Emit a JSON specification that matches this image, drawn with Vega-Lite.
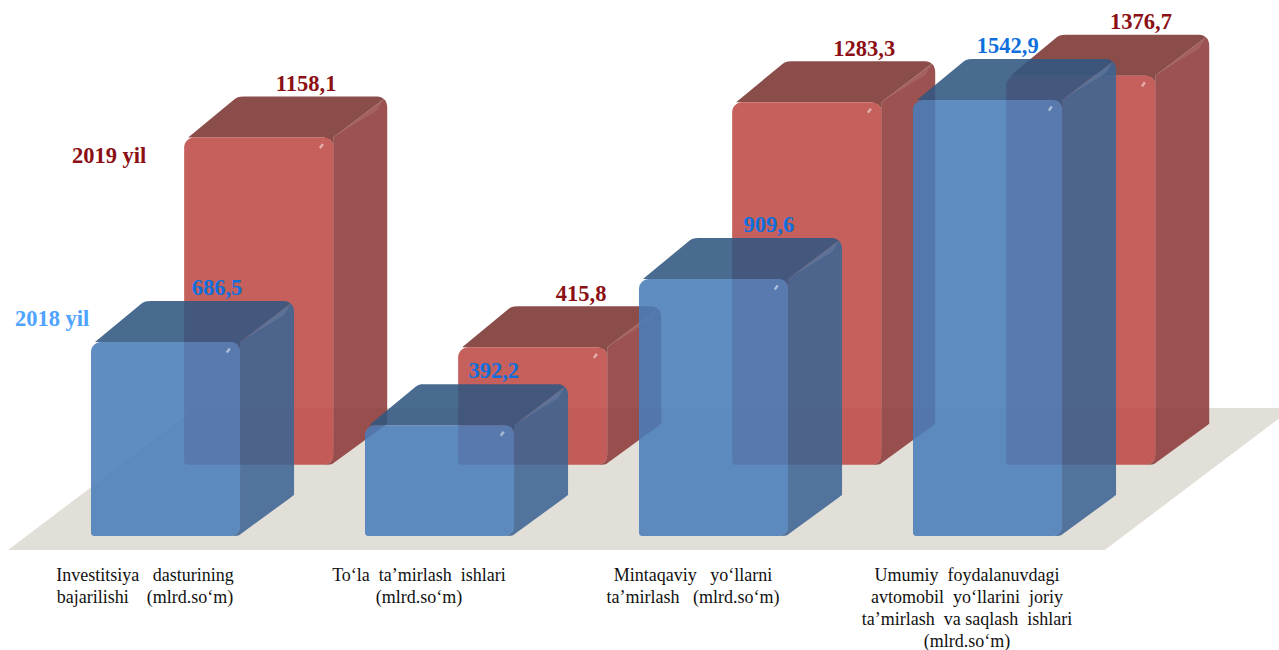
{"$schema":"https://vega.github.io/schema/vega-lite/v6.json","width":1279,"height":650,"autosize":{"type":"none"},"padding":0,"background":"white","view":{"stroke":null},"layer":[
{"data":{"values":[{"edge":"near"},{"edge":"far"}]},"transform":[{"calculate":"datum.edge=='near'?-49.6:453","as":"fy"},{"calculate":"datum.edge=='near'?-0.303:0.383","as":"fl"},{"calculate":"datum.edge=='near'?3.70:4.387","as":"fr"}],"mark":{"type":"area","orient":"horizontal","fill":"#e2dfd8","clip":true},"encoding":{"y":{"field":"fy","type":"quantitative","scale":{"domain":[-403.5,1897],"nice":false,"zero":false},"axis":null},"x":{"field":"fl","type":"quantitative","scale":{"domain":[-0.3321,4.3358],"nice":false,"zero":false},"axis":null},"x2":{"field":"fr"}}},
{"data":{"values":[
{"measure":"Investitsiya\u00a0\u00a0\u00a0dasturining\nbajarilishi\u00a0\u00a0\u00a0\u00a0(mlrd.so‘m)","order":0,"year":2018,"value":686.5,"label":"686,5"},
{"measure":"Investitsiya\u00a0\u00a0\u00a0dasturining\nbajarilishi\u00a0\u00a0\u00a0\u00a0(mlrd.so‘m)","order":0,"year":2019,"value":1158.1,"label":"1158,1"},
{"measure":"To‘la\u00a0\u00a0ta’mirlash\u00a0\u00a0ishlari\n(mlrd.so‘m)","order":1,"year":2018,"value":392.2,"label":"392,2"},
{"measure":"To‘la\u00a0\u00a0ta’mirlash\u00a0\u00a0ishlari\n(mlrd.so‘m)","order":1,"year":2019,"value":415.8,"label":"415,8"},
{"measure":"Mintaqaviy\u00a0\u00a0\u00a0yo‘llarni\nta’mirlash\u00a0\u00a0\u00a0(mlrd.so‘m)","order":2,"year":2018,"value":909.6,"label":"909,6"},
{"measure":"Mintaqaviy\u00a0\u00a0\u00a0yo‘llarni\nta’mirlash\u00a0\u00a0\u00a0(mlrd.so‘m)","order":2,"year":2019,"value":1283.3,"label":"1283,3"},
{"measure":"Umumiy\u00a0\u00a0foydalanuvdagi\navtomobil\u00a0\u00a0yo‘llarini\u00a0\u00a0joriy\nta’mirlash\u00a0\u00a0va saqlash\u00a0\u00a0ishlari\n(mlrd.so‘m)","order":3,"year":2018,"value":1542.9,"label":"1542,9"},
{"measure":"Umumiy\u00a0\u00a0foydalanuvdagi\navtomobil\u00a0\u00a0yo‘llarini\u00a0\u00a0joriy\nta’mirlash\u00a0\u00a0va saqlash\u00a0\u00a0ishlari\n(mlrd.so‘m)","order":3,"year":2019,"value":1376.7,"label":"1376,7"}
]},
"transform":[{"calculate":"datum.order+(datum.year==2019?0.34:0)","as":"x0"},{"calculate":"datum.x0+0.544","as":"x1"},{"calculate":"datum.year==2019?252:0","as":"base"},{"calculate":"datum.base+datum.value","as":"top"},
{"calculate":"[{d:-10,u:0,b:1,l:0},{d:-6,u:0.8,b:1,l:0},{d:-3,u:2.9,b:1,l:0.2},{d:-1,u:5.6,b:1,l:0.8},{d:-0.01,u:10,b:1,l:1.5},{d:0,u:0,b:0,l:1.5},{d:50.7,u:38.5,b:0,l:38.5},{d:52.5,u:36.5,b:0,l:39.9},{d:53.6,u:33.5,b:0,l:40.7},{d:54,u:31,b:0,l:41}]","as":"sideV"},
{"calculate":"[{y:-9,l:0,a:1,r:0},{y:-5,l:-0.94,a:1,r:0},{y:-2,l:-3.34,a:1,r:0},{y:-0.01,l:-9,a:1,r:0},{y:0,l:4,a:0,r:0},{y:38,l:50,a:0,r:50},{y:38.5,l:50.6,a:0,r:50.6},{y:40,l:53,a:0,r:48.4},{y:40.8,l:56,a:0,r:46},{y:41,l:60,a:0,r:44}]","as":"topV"},
{"calculate":"[{d:2,u:1.5,l:1.5},{d:44,u:33.4,l:27},{d:50.7,u:38.5,l:38.5}]","as":"bevV"}],
"layer":[
{"transform":[{"filter":"datum.year==2019"},{"flatten":["sideV"],"as":["v"]},{"calculate":"datum.x1+datum.v.d/274","as":"sx"},{"calculate":"(datum.v.b==1?datum.base:datum.top)+datum.v.u*3.54","as":"sy"},{"calculate":"datum.base+datum.v.l*3.54","as":"sy2"}],"mark":{"type":"area","orient":"vertical","fill":"#8d3a38","opacity":0.88},"encoding":{"x":{"field":"sx","type":"quantitative","scale":{"domain":[-0.3321,4.3358],"nice":false,"zero":false},"axis":null},"y":{"field":"sy","type":"quantitative","scale":{"domain":[-403.5,1897],"nice":false,"zero":false},"axis":null},"y2":{"field":"sy2"},"detail":{"field":"order","type":"nominal"}}},
{"transform":[{"filter":"datum.year==2019"},{"flatten":["topV"],"as":["v"]},{"calculate":"datum.top+datum.v.y*3.54","as":"ty"},{"calculate":"(datum.v.a==1?datum.x1:datum.x0)+datum.v.l/274","as":"tl"},{"calculate":"datum.x1+datum.v.r/274","as":"tr"}],"mark":{"type":"area","orient":"horizontal","fill":"#7b3431","opacity":0.88},"encoding":{"y":{"field":"ty","type":"quantitative","scale":{"domain":[-403.5,1897],"nice":false,"zero":false},"axis":null},"x":{"field":"tl","type":"quantitative","scale":{"domain":[-0.3321,4.3358],"nice":false,"zero":false},"axis":null},"x2":{"field":"tr"},"detail":{"field":"order","type":"nominal"}}},
{"transform":[{"filter":"datum.year==2019"},{"flatten":["bevV"],"as":["v"]},{"calculate":"datum.x1+datum.v.d/274","as":"bx"},{"calculate":"datum.top+datum.v.u*3.54","as":"by"},{"calculate":"datum.top+datum.v.l*3.54","as":"by2"}],"mark":{"type":"area","orient":"vertical","fill":"white","opacity":0.09},"encoding":{"x":{"field":"bx","type":"quantitative","scale":{"domain":[-0.3321,4.3358],"nice":false,"zero":false},"axis":null},"y":{"field":"by","type":"quantitative","scale":{"domain":[-403.5,1897],"nice":false,"zero":false},"axis":null},"y2":{"field":"by2"},"detail":{"field":"order","type":"nominal"}}},
{"transform":[{"filter":"datum.year==2019"}],"mark":{"type":"rect","fill":"#be4a46","opacity":0.88,"cornerRadiusTopLeft":10,"cornerRadiusTopRight":9,"cornerRadiusBottomLeft":3,"cornerRadiusBottomRight":10},"encoding":{"x":{"field":"x0","type":"quantitative","scale":{"domain":[-0.3321,4.3358],"nice":false,"zero":false},"axis":null},"x2":{"field":"x1"},"y":{"field":"top","type":"quantitative","scale":{"domain":[-403.5,1897],"nice":false,"zero":false},"axis":null},"y2":{"field":"base"}}},
{"transform":[{"filter":"datum.year==2019"},{"calculate":"datum.x1-0.043","as":"px"},{"calculate":"datum.top-30","as":"py"}],"mark":{"type":"point","filled":true,"fill":"white","opacity":0.5,"size":30,"shape":"M-0.2,1L-0.9,0.5L0.2,-1L0.9,-0.5Z"},"encoding":{"x":{"field":"px","type":"quantitative","scale":{"domain":[-0.3321,4.3358],"nice":false,"zero":false},"axis":null},"y":{"field":"py","type":"quantitative","scale":{"domain":[-403.5,1897],"nice":false,"zero":false},"axis":null}}},
{"transform":[{"filter":"datum.year==2018"},{"flatten":["sideV"],"as":["v"]},{"calculate":"datum.x1+datum.v.d/274","as":"sx"},{"calculate":"(datum.v.b==1?datum.base:datum.top)+datum.v.u*3.54","as":"sy"},{"calculate":"datum.base+datum.v.l*3.54","as":"sy2"}],"mark":{"type":"area","orient":"vertical","fill":"#3c6493","opacity":0.88},"encoding":{"x":{"field":"sx","type":"quantitative","scale":{"domain":[-0.3321,4.3358],"nice":false,"zero":false},"axis":null},"y":{"field":"sy","type":"quantitative","scale":{"domain":[-403.5,1897],"nice":false,"zero":false},"axis":null},"y2":{"field":"sy2"},"detail":{"field":"order","type":"nominal"}}},
{"transform":[{"filter":"datum.year==2018"},{"flatten":["topV"],"as":["v"]},{"calculate":"datum.top+datum.v.y*3.54","as":"ty"},{"calculate":"(datum.v.a==1?datum.x1:datum.x0)+datum.v.l/274","as":"tl"},{"calculate":"datum.x1+datum.v.r/274","as":"tr"}],"mark":{"type":"area","orient":"horizontal","fill":"#315681","opacity":0.88},"encoding":{"y":{"field":"ty","type":"quantitative","scale":{"domain":[-403.5,1897],"nice":false,"zero":false},"axis":null},"x":{"field":"tl","type":"quantitative","scale":{"domain":[-0.3321,4.3358],"nice":false,"zero":false},"axis":null},"x2":{"field":"tr"},"detail":{"field":"order","type":"nominal"}}},
{"transform":[{"filter":"datum.year==2018"},{"flatten":["bevV"],"as":["v"]},{"calculate":"datum.x1+datum.v.d/274","as":"bx"},{"calculate":"datum.top+datum.v.u*3.54","as":"by"},{"calculate":"datum.top+datum.v.l*3.54","as":"by2"}],"mark":{"type":"area","orient":"vertical","fill":"white","opacity":0.09},"encoding":{"x":{"field":"bx","type":"quantitative","scale":{"domain":[-0.3321,4.3358],"nice":false,"zero":false},"axis":null},"y":{"field":"by","type":"quantitative","scale":{"domain":[-403.5,1897],"nice":false,"zero":false},"axis":null},"y2":{"field":"by2"},"detail":{"field":"order","type":"nominal"}}},
{"transform":[{"filter":"datum.year==2018"}],"mark":{"type":"rect","fill":"#497dba","opacity":0.88,"cornerRadiusTopLeft":10,"cornerRadiusTopRight":9,"cornerRadiusBottomLeft":3,"cornerRadiusBottomRight":10},"encoding":{"x":{"field":"x0","type":"quantitative","scale":{"domain":[-0.3321,4.3358],"nice":false,"zero":false},"axis":null},"x2":{"field":"x1"},"y":{"field":"top","type":"quantitative","scale":{"domain":[-403.5,1897],"nice":false,"zero":false},"axis":null},"y2":{"field":"base"}}},
{"transform":[{"filter":"datum.year==2018"},{"calculate":"datum.x1-0.043","as":"px"},{"calculate":"datum.top-30","as":"py"}],"mark":{"type":"point","filled":true,"fill":"white","opacity":0.5,"size":30,"shape":"M-0.2,1L-0.9,0.5L0.2,-1L0.9,-0.5Z"},"encoding":{"x":{"field":"px","type":"quantitative","scale":{"domain":[-0.3321,4.3358],"nice":false,"zero":false},"axis":null},"y":{"field":"py","type":"quantitative","scale":{"domain":[-403.5,1897],"nice":false,"zero":false},"axis":null}}},
{"transform":[{"calculate":"datum.year==2018?datum.x0+0.467+(datum.order==3?-0.121:datum.order==0?-0.007:datum.order==2?0.007:0.003):datum.x0+0.467+(datum.order==0?-0.022:datum.order==1?-0.018:datum.order==2?0.015:0.025)","as":"lx"},{"calculate":"datum.top+190","as":"ly"},{"calculate":"datum.year==2019?'#8b0f14':'#0f6fdc'","as":"lc"}],"mark":{"type":"text","font":"Liberation Serif","fontWeight":"bold","fontSize":22.5,"baseline":"middle","align":"center"},"encoding":{"x":{"field":"lx","type":"quantitative","scale":{"domain":[-0.3321,4.3358],"nice":false,"zero":false},"axis":null},"y":{"field":"ly","type":"quantitative","scale":{"domain":[-403.5,1897],"nice":false,"zero":false},"axis":null},"text":{"field":"label","type":"nominal"},"color":{"field":"lc","type":"nominal","scale":null}}},
{"transform":[{"filter":"datum.order==0"},{"calculate":"datum.year+' yil'","as":"yl"},{"calculate":"datum.year==2019?datum.x0-0.274:datum.x0-0.142","as":"lx"},{"calculate":"datum.year==2019?datum.top-64:datum.top+81","as":"ly"},{"calculate":"datum.year==2019?'#8b0f14':'#4da3ff'","as":"lc"}],"mark":{"type":"text","font":"Liberation Serif","fontWeight":"bold","fontSize":22.5,"baseline":"middle","align":"center"},"encoding":{"x":{"field":"lx","type":"quantitative","scale":{"domain":[-0.3321,4.3358],"nice":false,"zero":false},"axis":null},"y":{"field":"ly","type":"quantitative","scale":{"domain":[-403.5,1897],"nice":false,"zero":false},"axis":null},"text":{"field":"yl","type":"nominal"},"color":{"field":"lc","type":"nominal","scale":null}}},
{"transform":[{"filter":"datum.year==2018"},{"calculate":"datum.order+0.197","as":"lx"},{"calculate":"-110","as":"ly"},{"calculate":"split(datum.measure,'\\n')","as":"lines"}],"mark":{"type":"text","font":"Liberation Serif","fontSize":18,"baseline":"top","align":"center","lineHeight":22,"color":"#111111"},"encoding":{"x":{"field":"lx","type":"quantitative","scale":{"domain":[-0.3321,4.3358],"nice":false,"zero":false},"axis":null},"y":{"field":"ly","type":"quantitative","scale":{"domain":[-403.5,1897],"nice":false,"zero":false},"axis":null},"text":{"field":"lines"}}}
]}
]}
